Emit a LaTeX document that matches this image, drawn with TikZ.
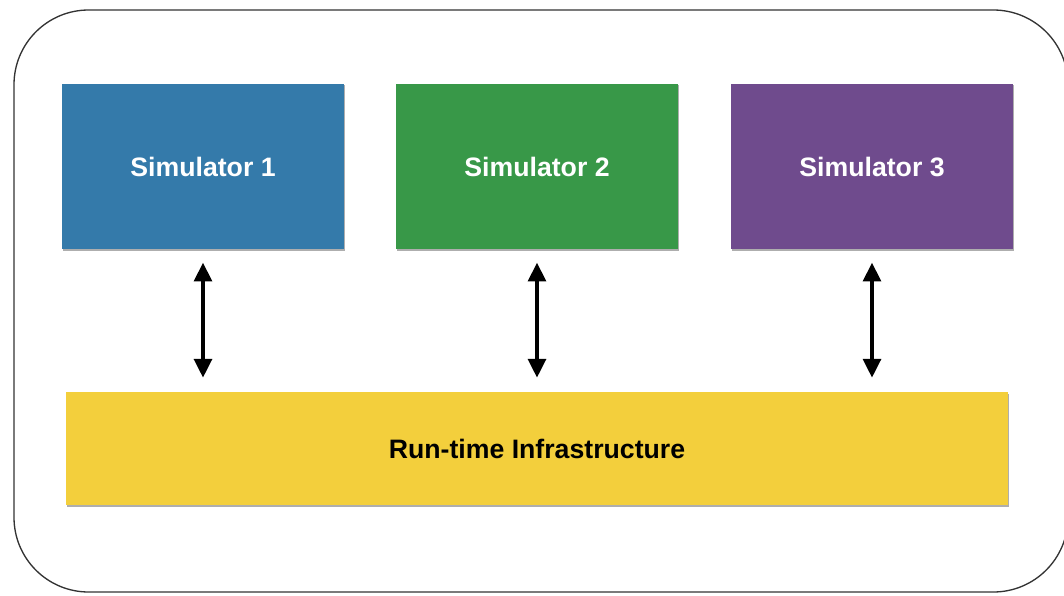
\documentclass[tikz,border=0pt]{standalone}
\usepackage{fontspec}
\setmainfont{Liberation Sans}
\usetikzlibrary{arrows.meta,shadows}

\definecolor{simblue}{RGB}{52,122,170}
\definecolor{simgreen}{RGB}{56,152,72}
\definecolor{simpurple}{RGB}{111,75,141}
\definecolor{rtiyellow}{RGB}{243,207,60}

\tikzset{
  simbox/.style={
    rectangle, inner sep=0pt,
    minimum width=211pt, minimum height=124pt,
    text=white, font=\fontsize{20}{24}\selectfont\bfseries,
    drop shadow={shadow xshift=0.8pt, shadow yshift=-1.2pt, opacity=0.45, fill=black!70}
  },
  rtibox/.style={
    rectangle, inner sep=0pt, fill=rtiyellow,
    minimum width=706pt, minimum height=85pt,
    text=black, font=\fontsize{20}{24}\selectfont\bfseries,
    drop shadow={shadow xshift=0.8pt, shadow yshift=-1.5pt, opacity=0.45, fill=black!70}
  },
  link/.style={
    line width=2.3pt, black,
    {Triangle[length=14pt,width=13.5pt]}-{Triangle[length=14pt,width=13.5pt]}
  },
  frame/.style={draw=black!80, line width=1pt, rounded corners=56pt}
}

\begin{document}
\begin{tikzpicture}[x=0.75pt, y=-0.75pt]
  \useasboundingbox (0,0) rectangle (1064,596);
  \fill[white] (0,0) rectangle (1064,596);

  % enclosing frame (its right side runs just past the page edge)
  \begin{scope}
    \clip (0,0) rectangle (1064,596);
    \draw[frame] (14,10) rectangle (1068,592);
  \end{scope}

  % simulators
  \node[simbox, fill=simblue]   (s1) at (203,166.5) {Simulator 1};
  \node[simbox, fill=simgreen]  (s2) at (537,166.5) {Simulator 2};
  \node[simbox, fill=simpurple] (s3) at (872,166.5) {Simulator 3};

  % run-time infrastructure
  \node[rtibox] (rti) at (537,448.5) {Run-time Infrastructure};

  % two-way links between each simulator and the RTI
  \foreach \s in {s1,s2,s3} {
    \draw[link] ([yshift=-10pt]\s.south) -- ([yshift=10.5pt]\s.south |- rti.north);
  }
\end{tikzpicture}
\end{document}
